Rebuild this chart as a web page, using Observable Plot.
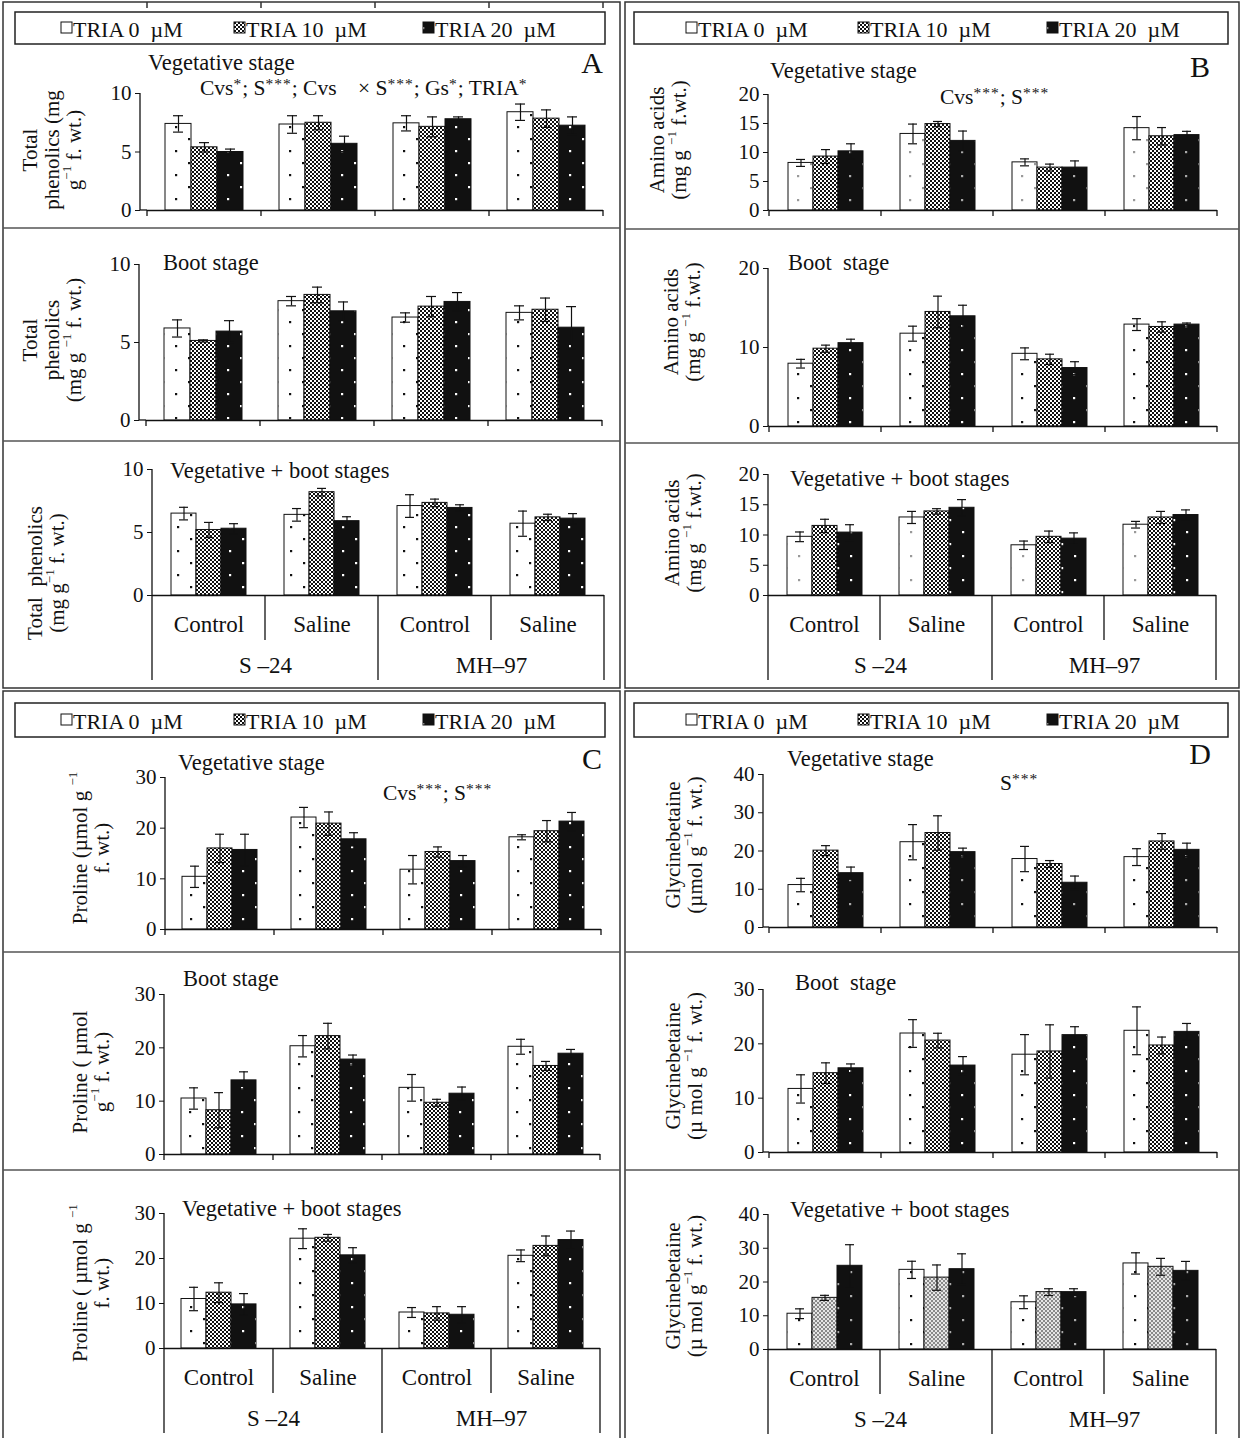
<!DOCTYPE html>
<html>
<head>
<meta charset="utf-8">
<script src="https://cdn.jsdelivr.net/npm/d3@7"></script>
<script src="https://cdn.jsdelivr.net/npm/@observablehq/plot@0.6"></script>
<style>
  body { margin: 0; background: #fff; }
  #page { position: relative; width: 1242px; height: 1438px; overflow: hidden; background: #fff; }
  .cell { position: absolute; }
  .cell svg { overflow: visible; }
  #overlay { position: absolute; left: 0; top: 0; pointer-events: none; }
  #overlay text { white-space: pre; }
</style>
</head>
<body>
<div id="page"></div>
<script>
const FONT = '"Liberation Serif", "Times New Roman", serif';

// ---- Categories ----
const cultivars = ["S –24", "MH–97"];
const salinity = ["Control", "Saline"];
const treatments = ["TRIA 0 µM", "TRIA 10 µM", "TRIA 20 µM"];
const legendLabels = ["TRIA 0  µM", "TRIA 10  µM", "TRIA 20  µM"];
const groups = cultivars.flatMap(c => salinity.map(s => `${c}|${s}`));

// ---- Values: one row per cultivar × salinity group, one column per TRIA level ----
// Total phenolics (mg g-1 f. wt.)
const phenolicsVeg = [[7.4, 5.4, 5.0], [7.35, 7.5, 5.7], [7.45, 7.15, 7.8], [8.4, 7.85, 7.25]];
const phenolicsVegSE = [[0.7, 0.4, 0.25], [0.75, 0.6, 0.65], [0.65, 0.85, 0.2], [0.7, 0.75, 0.75]];
const phenolicsBoot = [[5.9, 5.1, 5.7], [7.65, 8.05, 7.0], [6.6, 7.3, 7.6], [6.9, 7.1, 5.95]];
const phenolicsBootSE = [[0.55, 0.07, 0.7], [0.3, 0.5, 0.6], [0.3, 0.65, 0.6], [0.45, 0.75, 1.35]];
const phenolicsBoth = [[6.5, 5.2, 5.3], [6.4, 8.2, 5.9], [7.1, 7.35, 6.95], [5.7, 6.2, 6.1]];
const phenolicsBothSE = [[0.5, 0.6, 0.4], [0.5, 0.3, 0.35], [0.9, 0.3, 0.25], [1.0, 0.25, 0.4]];

// Amino acids (mg g-1 f. wt.)
const aminoVeg = [[8.2, 9.3, 10.2], [13.2, 14.9, 12.0], [8.3, 7.4, 7.4], [14.2, 12.8, 13.0]];
const aminoVegSE = [[0.6, 1.2, 1.3], [1.7, 0.45, 1.7], [0.6, 0.6, 1.15], [2.0, 1.5, 0.65]];
const aminoBoot = [[7.95, 9.85, 10.55], [11.75, 14.5, 13.95], [9.2, 8.5, 7.4], [12.9, 12.6, 12.9]];
const aminoBootSE = [[0.55, 0.45, 0.5], [0.95, 2.0, 1.4], [0.75, 0.65, 0.8], [0.75, 0.65, 0.2]];
const aminoBoth = [[9.7, 11.5, 10.4], [12.9, 13.9, 14.5], [8.3, 9.7, 9.4], [11.7, 12.9, 13.3]];
const aminoBothSE = [[0.8, 1.1, 1.3], [1.0, 0.45, 1.35], [0.7, 0.95, 0.95], [0.55, 1.0, 0.85]];

// Proline (µmol g-1 f. wt.)
const prolineVeg = [[10.4, 16.0, 15.7], [22.1, 20.9, 17.8], [11.8, 15.3, 13.5], [18.2, 19.4, 21.3]];
const prolineVegSE = [[2.1, 2.8, 3.1], [2.0, 2.3, 1.3], [2.8, 1.0, 1.1], [0.5, 2.1, 1.8]];
const prolineBoot = [[10.5, 8.3, 13.9], [20.3, 22.2, 17.8], [12.5, 9.7, 11.4], [20.2, 16.6, 18.9]];
const prolineBootSE = [[2.0, 3.3, 1.6], [2.0, 2.4, 0.85], [2.5, 0.65, 1.25], [1.4, 0.85, 0.8]];
const prolineBoth = [[11.0, 12.4, 9.8], [24.4, 24.6, 20.7], [8.0, 7.8, 7.5], [20.6, 22.8, 24.1]];
const prolineBothSE = [[2.6, 2.2, 2.4], [2.2, 0.75, 1.7], [1.1, 1.5, 1.8], [1.3, 2.2, 2.0]];

// Glycinebetaine (µmol g-1 f. wt.)
const glyVeg = [[11.1, 20.1, 14.2], [22.3, 24.7, 19.7], [17.9, 16.6, 11.7], [18.4, 22.5, 20.3]];
const glyVegSE = [[1.75, 1.3, 1.6], [4.6, 4.5, 1.05], [3.3, 0.9, 1.75], [2.2, 2.05, 1.75]];
const glyBoot = [[11.7, 14.6, 15.5], [21.9, 20.6, 16.0], [18.0, 18.6, 21.6], [22.4, 19.7, 22.2]];
const glyBootSE = [[2.6, 1.9, 0.8], [2.55, 1.35, 1.65], [3.7, 4.9, 1.55], [4.4, 1.55, 1.55]];
const glyBoth = [[10.6, 15.3, 24.8], [23.6, 21.3, 23.8], [14.0, 17.0, 17.0], [25.5, 24.5, 23.3]];
const glyBothSE = [[1.45, 0.75, 6.25], [2.55, 3.75, 4.55], [1.9, 1.0, 1.0], [3.15, 2.5, 2.8]];

// ---- Page scaffolding ----
const page = d3.select("#page");

// Hatch patterns used as bar fills
const defs = page.append("svg").attr("width", 0).attr("height", 0)
  .style("position", "absolute").append("defs");
function dotPattern(id, bg, dot) {
  const p = defs.append("pattern").attr("id", id).attr("width", 26).attr("height", 24)
    .attr("patternUnits", "userSpaceOnUse");
  p.append("rect").attr("width", 26).attr("height", 24).attr("fill", bg);
  for (const [x, y] of [[6, 3], [19, 15]]) {
    p.append("rect").attr("x", x).attr("y", y).attr("width", 2.2).attr("height", 2.2).attr("fill", dot);
  }
}
function checkPattern(id, bg, dot) {
  const p = defs.append("pattern").attr("id", id).attr("width", 4).attr("height", 4)
    .attr("patternUnits", "userSpaceOnUse");
  p.append("rect").attr("width", 4).attr("height", 4).attr("fill", bg);
  p.append("rect").attr("width", 2).attr("height", 2).attr("fill", dot);
  p.append("rect").attr("x", 2).attr("y", 2).attr("width", 2).attr("height", 2).attr("fill", dot);
}
dotPattern("p0", "#fff", "#111");
dotPattern("p0g", "#fff", "#999");
checkPattern("p1", "#fff", "#111");
checkPattern("p1g", "#e6e6e6", "#8a8a8a");
dotPattern("p2", "#111", "#fff");
dotPattern("p2g", "#111", "#aaa");

const STD = ["url(#p0)", "url(#p1)", "url(#p2)"];

// ---- Subplot layout: frame = [left, right, top, bottom] in page pixels;
//      gap = distance of the value axis to the left of the first category ----
const subplots = [
  {values: phenolicsVeg, errors: phenolicsVegSE, ymax: 10, ticks: [0, 5, 10], frame: [147, 603, 93, 210], gap: 7, px: 0, pad: 0.68, fills: STD, topTicks: true},
  {values: phenolicsBoot, errors: phenolicsBootSE, ymax: 10, ticks: [0, 5, 10], frame: [146, 602, 264, 420], gap: 7, px: 0, pad: 0.68, fills: STD},
  {values: phenolicsBoth, errors: phenolicsBothSE, ymax: 10, ticks: [0, 5, 10], frame: [150, 605, 469, 595], gap: 0, px: 0, pad: 0.68, fills: STD, bottom: true},
  {values: aminoVeg, errors: aminoVegSE, ymax: 20, ticks: [0, 5, 10, 15, 20], frame: [768, 1217, 94, 210], gap: 1, px: 621, pad: 0.72, fills: ["url(#p0g)", "url(#p1)", "url(#p2g)"]},
  {values: aminoBoot, errors: aminoBootSE, ymax: 20, ticks: [0, 10, 20], frame: [768, 1217, 268, 426], gap: 1, px: 621, pad: 0.72, fills: STD},
  {values: aminoBoth, errors: aminoBothSE, ymax: 20, ticks: [0, 5, 10, 15, 20], frame: [766, 1217, 474, 595], gap: 0, px: 621, pad: 0.72, fills: ["url(#p0g)", "url(#p1)", "url(#p2)"], bottom: true},
  {values: prolineVeg, errors: prolineVegSE, ymax: 30, ticks: [0, 10, 20, 30], frame: [163, 602, 777, 929], gap: 0, px: 0, pad: 0.64, fills: STD},
  {values: prolineBoot, errors: prolineBootSE, ymax: 30, ticks: [0, 10, 20, 30], frame: [163, 601, 994, 1154], gap: 0, px: 0, pad: 0.64, fills: STD},
  {values: prolineBoth, errors: prolineBothSE, ymax: 30, ticks: [0, 10, 20, 30], frame: [162, 601, 1213, 1348], gap: 0, px: 0, pad: 0.64, fills: STD, bottom: true},
  {values: glyVeg, errors: glyVegSE, ymax: 40, ticks: [0, 10, 20, 30, 40], frame: [768, 1217, 774, 927], gap: 6, px: 621, pad: 0.72, fills: ["url(#p0)", "url(#p1)", "url(#p2g)"]},
  {values: glyBoot, errors: glyBootSE, ymax: 30, ticks: [0, 10, 20, 30], frame: [768, 1217, 989, 1152], gap: 6, px: 621, pad: 0.72, fills: STD},
  {values: glyBoth, errors: glyBothSE, ymax: 40, ticks: [0, 10, 20, 30, 40], frame: [766, 1217, 1214, 1349], gap: 0, px: 621, pad: 0.72, fills: ["url(#p0)", "url(#p1g)", "url(#p2g)"], bottom: true}
];

function drawSubplot(s) {
  const [x0, x1, y0, y1] = s.frame;
  const W = 619;
  const top = y0 - 30;
  const H = (y1 - top) + (s.bottom ? 100 : 14);
  const rows = groups.flatMap((g, gi) => treatments.map((t, ti) => ({
    group: g, tria: t, value: s.values[gi][ti], err: s.errors[gi][ti]
  })));
  const cultivarLabels = cultivars.map((c, ci) => ({group: groups[ci * 2], name: c}));
  const ink = "#111";

  const marks = [
    Plot.barY(rows, {fx: "group", x: "tria", y: "value", fill: "tria", stroke: ink, strokeWidth: 1}),
    Plot.ruleX(rows, {fx: "group", x: "tria", y1: d => d.value - d.err, y2: d => d.value + d.err, stroke: ink, strokeWidth: 1.2}),
    Plot.tickY(rows, {fx: "group", x: "tria", y: d => d.value + d.err, inset: 8, stroke: ink, strokeWidth: 1.2}),
    Plot.tickY(rows, {fx: "group", x: "tria", y: d => d.value - d.err, inset: 8, stroke: ink, strokeWidth: 1.2}),
    Plot.ruleY([0], {stroke: ink, strokeWidth: 1.3}),
    Plot.axisY({ticks: s.ticks, tickSize: 5, tickPadding: 4, label: null, fontSize: 21,
      tickFormat: d3.format("d"), dx: -s.gap})
  ];
  if (s.bottom) {
    marks.push(
      Plot.axisFx({anchor: "bottom", tickSize: 0, tickPadding: 20, label: null, fontSize: 23,
        tickFormat: g => g.split("|")[1]}),
      Plot.text(cultivarLabels, {fx: "group", text: "name", frameAnchor: "bottom-right",
        textAnchor: "middle", dy: 77, fontSize: 23})
    );
  }

  const plot = Plot.plot({
    width: W, height: H,
    marginLeft: x0 - s.px, marginRight: s.px + W - x1,
    marginTop: y0 - top, marginBottom: top + H - y1,
    style: {fontFamily: FONT, fontSize: "21px", color: ink, background: "transparent", overflow: "visible"},
    fx: {domain: groups, padding: 0, axis: s.bottom ? undefined : null, label: null},
    x: {domain: treatments, paddingInner: 0, paddingOuter: s.pad, axis: null},
    y: {domain: [0, s.ymax]},
    color: {domain: treatments, range: s.fills},
    marks
  });

  // Value-axis line and category dividers, placed from the plot's own scales
  const fxs = plot.scale("fx"), ys = plot.scale("y");
  const bw = fxs.bandwidth ?? (fxs.range[1] - fxs.range[0]) / groups.length;
  const edges = groups.map(g => fxs.apply(g));
  edges.push(edges[edges.length - 1] + bw);
  const yZero = ys.apply(0), yMax = ys.apply(s.ymax);
  const axisX = edges[0] - s.gap;
  const g = d3.select(plot).append("g").attr("stroke", ink).attr("stroke-width", 1.3);
  g.append("line").attr("x1", axisX).attr("x2", axisX).attr("y1", yMax).attr("y2", yZero);
  if (s.gap) g.append("line").attr("x1", axisX).attr("x2", edges[0]).attr("y1", yZero).attr("y2", yZero);
  edges.forEach((x, i) => {
    const len = s.bottom ? (i % 2 === 0 ? 85 : 45) : 6;
    g.append("line").attr("x1", x).attr("x2", x).attr("y1", yZero).attr("y2", yZero + len);
    if (s.topTicks) g.append("line").attr("x1", x).attr("x2", x).attr("y1", 2 - top).attr("y2", 8 - top);
  });

  page.append("div").attr("class", "cell")
    .style("left", s.px + "px").style("top", top + "px")
    .style("width", W + "px").style("height", H + "px")
    .node().appendChild(plot);
}
subplots.forEach(drawSubplot);

// ---- Overlay: frames, legends, titles ----
const ov = page.append("svg").attr("id", "overlay").attr("width", 1242).attr("height", 1438)
  .attr("font-family", FONT).attr("fill", "#111");

// "^{...}" marks a superscript run
function rich(sel, str, sup = {}) {
  const {size = "0.62em", shift = "super", spacing = 0} = sup;
  const parts = str.split(/(\^\{[^}]*\})/);
  for (const p of parts) {
    if (!p) continue;
    const m = p.match(/^\^\{([^}]*)\}$/);
    if (m) sel.append("tspan").attr("baseline-shift", shift).attr("font-size", size)
      .attr("letter-spacing", spacing).text(m[1]);
    else sel.append("tspan").text(p);
  }
  return sel;
}
function label(x, y, str, size, anchor = "start", sup) {
  const t = ov.append("text").attr("x", x).attr("y", y).attr("font-size", size)
    .attr("dominant-baseline", "central").attr("text-anchor", anchor);
  return rich(t, str, sup);
}
function yTitle(cx, cy, lines, size = 21, lh = 22) {
  const g = ov.append("g").attr("transform", `translate(${cx},${cy}) rotate(-90)`);
  lines.forEach((ln, i) => {
    const t = g.append("text").attr("x", 0).attr("y", (i - (lines.length - 1) / 2) * lh)
      .attr("font-size", size).attr("text-anchor", "middle").attr("dominant-baseline", "central");
    rich(t, ln);
  });
}

// Panel frames and separators (the lower panels run off the bottom edge)
const frameStroke = "#333";
const panels = [
  {x0: 3, x1: 620, y0: 2, y1: 688, seps: [228, 441], closed: true},
  {x0: 625, x1: 1239, y0: 2, y1: 688, seps: [229, 443], closed: true},
  {x0: 3, x1: 620, y0: 691, y1: 1440, seps: [952, 1170], closed: false},
  {x0: 625, x1: 1239, y0: 691, y1: 1440, seps: [952, 1170], closed: false}
];
panels.forEach(p => {
  const path = d3.path();
  path.moveTo(p.x0, p.y1); path.lineTo(p.x0, p.y0); path.lineTo(p.x1, p.y0); path.lineTo(p.x1, p.y1);
  if (p.closed) path.closePath();
  ov.append("path").attr("d", path.toString()).attr("fill", "none")
    .attr("stroke", frameStroke).attr("stroke-width", 1.5);
  p.seps.forEach(y => ov.append("line").attr("x1", p.x0).attr("x2", p.x1).attr("y1", y).attr("y2", y)
    .attr("stroke", "#555").attr("stroke-width", 1.3));
});

// Legends
const swatchFills = [["url(#p0)", "url(#p1)", "url(#p2)"], ["url(#p0g)", "url(#p1)", "url(#p2)"]];
function legend(x0, x1, y0, y1, offsets, fills) {
  ov.append("rect").attr("x", x0).attr("y", y0).attr("width", x1 - x0).attr("height", y1 - y0)
    .attr("fill", "#fff").attr("stroke", "#222").attr("stroke-width", 1.5);
  const cy = (y0 + y1) / 2;
  treatments.forEach((t, i) => {
    const sx = x0 + offsets[i];
    ov.append("rect").attr("x", sx - 6).attr("y", cy - 6).attr("width", 11).attr("height", 11)
      .attr("fill", fills[i]).attr("stroke", "#111").attr("stroke-width", 1);
    label(sx + 6, cy + 1, legendLabels[i], 22);
  });
}
legend(15, 605, 12, 44, [52, 225, 414], swatchFills[0]);
legend(634, 1228, 12, 44, [58, 230, 419], swatchFills[1]);
legend(15, 605, 703, 737, [52, 225, 414], swatchFills[0]);
legend(634, 1228, 703, 737, [58, 230, 419], swatchFills[0]);

// Stage titles
const ST = 22.5;
label(148, 62, "Vegetative stage", ST);
label(163, 262, "Boot stage", ST);
label(170, 470, "Vegetative + boot stages", ST);
label(770, 70, "Vegetative stage", ST);
label(788, 262, "Boot  stage", ST);
label(790, 478, "Vegetative + boot stages", ST);
label(178, 762, "Vegetative stage", ST);
label(183, 978, "Boot stage", ST);
label(182, 1208, "Vegetative + boot stages", ST);
label(787, 758, "Vegetative stage", ST);
label(795, 982, "Boot  stage", ST);
label(790, 1209, "Vegetative + boot stages", ST);

// Significance notes (asterisks raised slightly above the baseline)
const STAR = {size: "0.72em", shift: "28%", spacing: 1};
label(200, 88, "Cvs^{*}; S^{***}; Cvs    × S^{***}; Gs^{*}; TRIA^{*}", 21.5, "start", STAR);
label(940, 97, "Cvs^{***}; S^{***}", 21.5, "start", STAR);
label(383, 793, "Cvs^{***}; S^{***}", 21.5, "start", STAR);
label(1000, 783, "S^{***}", 21.5, "start", STAR);

// Panel letters
label(592, 62, "A", 30, "middle");
label(1200, 66, "B", 30, "middle");
label(592, 758, "C", 30, "middle");
label(1200, 753, "D", 30, "middle");

// Y-axis titles
yTitle(52, 150, ["Total", "phenolics (mg", "g^{−1} f. wt.)"]);
yTitle(52, 340, ["Total", "phenolics", "(mg g ^{−1} f. wt.)"]);
yTitle(46, 573, ["Total  phenolics", "(mg g^{−1} f. wt.)"]);
yTitle(668, 140, ["Amino acids", "(mg g ^{−1} f.wt.)"]);
yTitle(682, 322, ["Amino acids", "(mg g ^{−1} f.wt.)"]);
yTitle(683, 533, ["Amino acids", "(mg g ^{−1} f.wt.)"]);
yTitle(91, 848, ["Proline (µmol g ^{−1}", "f. wt.)"]);
yTitle(91, 1072, ["Proline ( µmol", "g^{−1} f. wt.)"]);
yTitle(91, 1283, ["Proline ( µmol g ^{−1}", "f. wt.)"]);
yTitle(684, 845, ["Glycinebetaine", "(µmol g^{−1} f. wt.)"]);
yTitle(684, 1066, ["Glycinebetaine", "(µ mol g ^{−1} f. wt.)"]);
yTitle(684, 1286, ["Glycinebetaine", "(µ mol g^{−1} f. wt.)"]);
</script>
</body>
</html>
